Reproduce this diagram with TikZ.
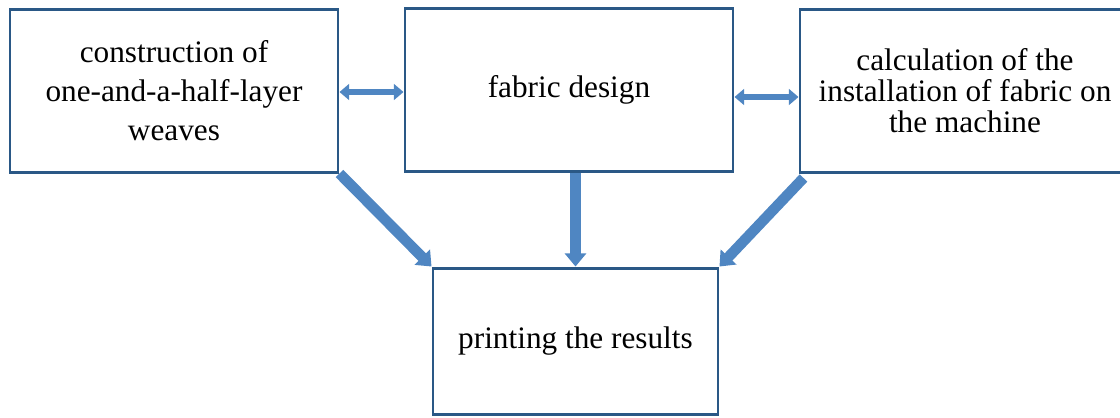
\documentclass[tikz,border=0pt]{standalone}
\usepackage{fontspec}
\setmainfont{Liberation Serif}
\usetikzlibrary{arrows.meta, positioning}

\definecolor{boxline}{HTML}{2A5886}
\definecolor{arrowblue}{HTML}{4F86C2}
\definecolor{arrowedge}{HTML}{3B6FA6}

\tikzset{
  stage/.style={draw=boxline, line width=1.7pt, align=center, inner sep=0pt,
    font=\fontsize{17.8}{21}\selectfont},
  flow/.style={draw=arrowedge, line width=6pt,
    -{Triangle[length=7.5pt, width=12pt]}, arrowblue},
  link/.style={draw=arrowblue, line width=3.8pt,
    {Triangle[length=5.5pt, width=9pt]}-{Triangle[length=5.5pt, width=9pt]}}
}

\begin{document}
\begin{tikzpicture}[x=0.02cm, y=-0.02cm]
\useasboundingbox (0,0) rectangle (1120,417);
\clip (0,0) rectangle (1120,417);

\node [stage, minimum width=328*0.02cm, minimum height=163*0.02cm,
  font=\fontsize{17.8}{22.2}\selectfont] (construct) at (174,90.5)
  {construction of\\one-and-a-half-layer\\weaves};
\node [stage, minimum width=328*0.02cm, minimum height=163*0.02cm] (design) at (569,89.5)
  {fabric design};
\node [stage, minimum width=330*0.02cm, minimum height=163*0.02cm,
  font=\fontsize{17.8}{17.6}\selectfont] (calc) at (965,91)
  {calculation of the\\installation of fabric on\\the machine};
\node [stage, minimum width=285*0.02cm, minimum height=146*0.02cm] (print) at (575.5,341)
  {printing the results};

% links between the top boxes
\path [link] ([yshift=-0.05cm]design.west -| construct.east) -- ([yshift=-0.05cm]design.west);
\path [link] ([yshift=-0.15cm]design.east) -- ([yshift=-0.15cm]design.east -| calc.west);

% everything goes to the printout
\path [flow] (construct.south east) -- (print.north west);
\path [flow] (design.south -| print.north) -- (print.north);
\path [flow] ([xshift=0.1cm,yshift=-0.08cm]calc.south west) -- (print.north east);

\end{tikzpicture}
\end{document}
